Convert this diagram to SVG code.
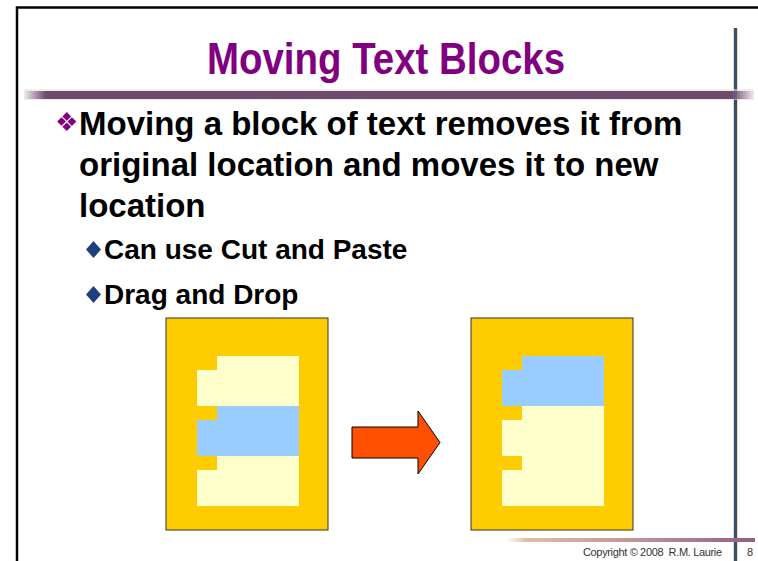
<svg xmlns="http://www.w3.org/2000/svg" width="758" height="561" viewBox="0 0 758 561">
  <defs>
    <linearGradient id="titleBar" x1="0" y1="0" x2="1" y2="0">
      <stop offset="0" stop-color="#6d4b6d" stop-opacity="0"/>
      <stop offset="0.03" stop-color="#6d4b6d" stop-opacity="1"/>
      <stop offset="0.97" stop-color="#6d4b6d" stop-opacity="1"/>
      <stop offset="1" stop-color="#6d4b6d" stop-opacity="0"/>
    </linearGradient>
    <linearGradient id="footBar" x1="0" y1="0" x2="1" y2="0">
      <stop offset="0" stop-color="#e8d2b4" stop-opacity="0"/>
      <stop offset="0.08" stop-color="#dcc0a0"/>
      <stop offset="0.6" stop-color="#b78c98"/>
      <stop offset="1" stop-color="#8f5f87"/>
    </linearGradient>
    <style>
      .title { font-family: "Liberation Sans Narrow", "Liberation Sans", Arial, sans-serif; font-weight: bold; font-size: 44px; fill: #800080; }
      .body { font-family: "Liberation Sans", Arial, sans-serif; font-weight: bold; font-size: 33px; fill: #000; }
      .sub { font-family: "Liberation Sans", Arial, sans-serif; font-weight: bold; font-size: 28px; fill: #000; }
      .foot { font-family: "Liberation Sans", Arial, sans-serif; font-size: 11px; fill: #333; white-space: pre; }
      .page { fill: #ffcc00; stroke: #333; stroke-width: 1; }
      .para { fill: #ffffcc; }
      .moved { fill: #99ccff; }
    </style>
  </defs>

  <rect width="758" height="561" fill="#fff"/>

  <!-- slide frame -->
  <path d="M17 561 V7.5 H758" fill="none" stroke="#000" stroke-width="2.5"/>

  <!-- vertical rule on the right -->
  <rect x="733" y="28" width="5" height="533" fill="#e9d9c4"/>
  <rect x="734" y="28" width="3" height="533" fill="#34506c"/>

  <!-- title and underline bar -->
  <text class="title" x="386" y="74" text-anchor="middle" textLength="358" lengthAdjust="spacingAndGlyphs">Moving Text Blocks</text>
  <rect x="24" y="89" width="730" height="11" fill="#e8dde6" opacity="0.6"/>
  <rect x="24" y="91" width="730" height="8" fill="url(#titleBar)"/>

  <!-- bullet text -->
  <g id="bullet-main">
    <text x="55" y="131" font-family="DejaVu Sans, sans-serif" font-size="26" fill="#800080">❖</text>
    <text class="body" x="79" y="135">Moving a block of text removes it from</text>
    <text class="body" x="79" y="176">original location and moves it to new</text>
    <text class="body" x="79" y="217">location</text>
  </g>
  <g id="bullet-cut">
    <polygon points="93.5,241 101,249.5 93.5,258 86,249.5" fill="#1f3f7f"/>
    <text class="sub" x="104" y="259">Can use Cut and Paste</text>
  </g>
  <g id="bullet-drag">
    <polygon points="93.5,286 101,294.5 93.5,303 86,294.5" fill="#1f3f7f"/>
    <text class="sub" x="104" y="304">Drag and Drop</text>
  </g>

  <!-- document before the move -->
  <g id="doc-before">
    <rect class="page" x="166" y="318" width="162" height="212"/>
    <path class="para" d="M217 356 H299 V406 H197 V370 H217 Z"/>
    <path class="moved" d="M217 406 H299 V456 H197 V420 H217 Z"/>
    <path class="para" d="M217 456 H299 V506 H197 V470 H217 Z"/>
  </g>

  <g id="connectors">
    <polygon points="352,427 418,427 418,411 440,442.5 418,474 418,458 352,458" fill="#ff5000" stroke="#000" stroke-width="1"/>
  </g>

  <!-- document after the move -->
  <g id="doc-after">
    <rect class="page" x="471" y="318" width="162" height="212"/>
    <path class="moved" d="M522 356 H604 V406 H502 V370 H522 Z"/>
    <path class="para" d="M522 406 H604 V506 H502 V470 H522 V456 H502 V420 H522 Z"/>
  </g>

  <!-- footer -->
  <rect x="505" y="538" width="250" height="4" fill="url(#footBar)"/>
  <text class="foot" x="583" y="556" textLength="139">Copyright © 2008  R.M. Laurie</text>
  <text class="foot" x="747" y="556">8</text>
</svg>
